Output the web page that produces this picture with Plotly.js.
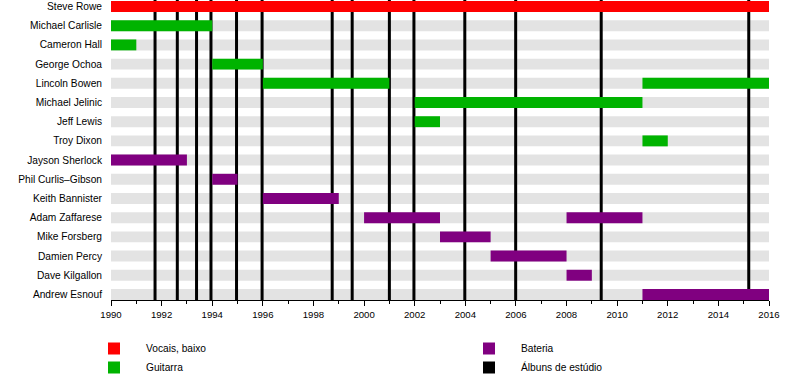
<!DOCTYPE html>
<html>
<head>
<meta charset="utf-8">
<script src="https://cdn.plot.ly/plotly-3.0.1.min.js"></script>
<style>html,body{margin:0;padding:0;background:#fff;}#chart{width:800px;height:380px;}</style>
</head>
<body>
<div id="chart"></div>
<script>
// ---- data ----
const members = ["Steve Rowe","Michael Carlisle","Cameron Hall","George Ochoa","Lincoln Bowen","Michael Jelinic","Jeff Lewis","Troy Dixon","Jayson Sherlock","Phil Curlis–Gibson","Keith Bannister","Adam Zaffarese","Mike Forsberg","Damien Percy","Dave Kilgallon","Andrew Esnouf"];

const vocalMembers = ["Steve Rowe"];
const vocalStart = [1990];
const vocalEnd = [2016];

const guitarMembers = ["Michael Carlisle","Cameron Hall","George Ochoa","Lincoln Bowen","Lincoln Bowen","Michael Jelinic","Jeff Lewis","Troy Dixon"];
const guitarStart = [1990,1990,1994,1996,2011,2002,2002,2011];
const guitarEnd   = [1994,1991,1996,2001,2016,2011,2003,2012];

const drumMembers = ["Jayson Sherlock","Phil Curlis–Gibson","Keith Bannister","Adam Zaffarese","Adam Zaffarese","Mike Forsberg","Damien Percy","Dave Kilgallon","Andrew Esnouf"];
const drumStart = [1990,1994,1996,2000,2008,2003,2005,2008,2011];
const drumEnd   = [1993,1995,1999,2003,2011,2005,2008,2009,2016];

const albumYears = [1991.74,1992.62,1993.38,1993.95,1994.96,1995.97,1998.74,1999.53,2001.0,2001.97,2003.98,2005.99,2009.37,2015.2];

const legendNames = ["Vocais, baixo","Guitarra","Bateria","Álbuns de estúdio"];
const xTickVals = [1990,1992,1994,1996,1998,2000,2002,2004,2006,2008,2010,2012,2014,2016];
const yearRange = [1990, 2016];

// ---- styles ----
const colors = {voc:"#ff0000", gtr:"#00b300", drm:"#800080", alb:"#000000", stripe:"#e3e3e3"};
const barW = 0.57;
const yRange = [15.29, -0.34];
const FONT = "Liberation Sans, Arial, sans-serif";

function idx(list){ return list.map(m => members.indexOf(m)); }
function spans(s,e){ return e.map((v,i)=>v - s[i]); }

function barTrace(name, mem, s, e, color, legend){
  return {type:"bar", orientation:"h", name:name, y:idx(mem), x:spans(s,e), base:s,
    width:barW, marker:{color:color, line:{width:0}}, hoverinfo:"skip", legend:legend};
}

const traces = [
  barTrace(legendNames[0], vocalMembers, vocalStart, vocalEnd, colors.voc, "legend"),
  barTrace(legendNames[1], guitarMembers, guitarStart, guitarEnd, colors.gtr, "legend"),
  barTrace(legendNames[2], drumMembers, drumStart, drumEnd, colors.drm, "legend2"),
  // legend entry for the album lines (zero-length bar, nothing drawn)
  {type:"bar", orientation:"h", name:legendNames[3], y:[0], x:[0], base:[yearRange[0]], width:barW,
    marker:{color:colors.alb, line:{width:0}}, legend:"legend2", showlegend:true, hoverinfo:"skip"}
];

const shapes = [];
members.forEach((m,i)=>{
  shapes.push({type:"rect", layer:"between", xref:"x", yref:"y", x0:yearRange[0], x1:yearRange[1],
    y0:i-barW/2, y1:i+barW/2, fillcolor:colors.stripe, line:{width:0}});
});
albumYears.forEach(y=>{
  shapes.push({type:"line", layer:"between", xref:"x", yref:"y", x0:y, x1:y, y0:yRange[0], y1:yRange[1],
    line:{color:colors.alb, width:3}});
});

const legendCommon = {orientation:"v", xref:"container", yref:"container", xanchor:"left", yanchor:"top",
  font:{family:FONT, size:10.2, color:"#000"}, bgcolor:"rgba(0,0,0,0)", borderwidth:0, tracegroupgap:0,
  itemclick:false, itemwidth:54};

const layout = {
  width:800, height:380,
  margin:{l:111, r:30.5, t:0, b:80, autoexpand:false},
  paper_bgcolor:"#fff", plot_bgcolor:"#fff",
  barmode:"overlay",
  font:{family:FONT, color:"#000"},
  showlegend:true,
  legend:Object.assign({}, legendCommon, {x:82/800, y:1-334/380}),
  legend2:Object.assign({}, legendCommon, {x:457/800, y:1-334/380}),
  xaxis:{range:yearRange, tickvals:xTickVals, ticks:"outside", ticklen:5, tickwidth:1, tickcolor:"#000",
    showline:true, linecolor:"#000", linewidth:1, showgrid:false, zeroline:false, automargin:false,
    tickangle:0, tickfont:{family:FONT, size:9.6, color:"#000"},
    minor:{dtick:1, tick0:1990, ticks:"outside", ticklen:3, tickcolor:"#000", showgrid:false}},
  yaxis:{range:yRange, tickvals:members.map((m,i)=>i), ticktext:members, ticks:"",
    showline:false, showgrid:false, zeroline:false, ticklabelstandoff:8, automargin:false,
    tickfont:{family:FONT, size:10.2, color:"#000"}},
  shapes:shapes
};

Plotly.newPlot("chart", traces, layout, {displayModeBar:false, staticPlot:true});
</script>
</body>
</html>
